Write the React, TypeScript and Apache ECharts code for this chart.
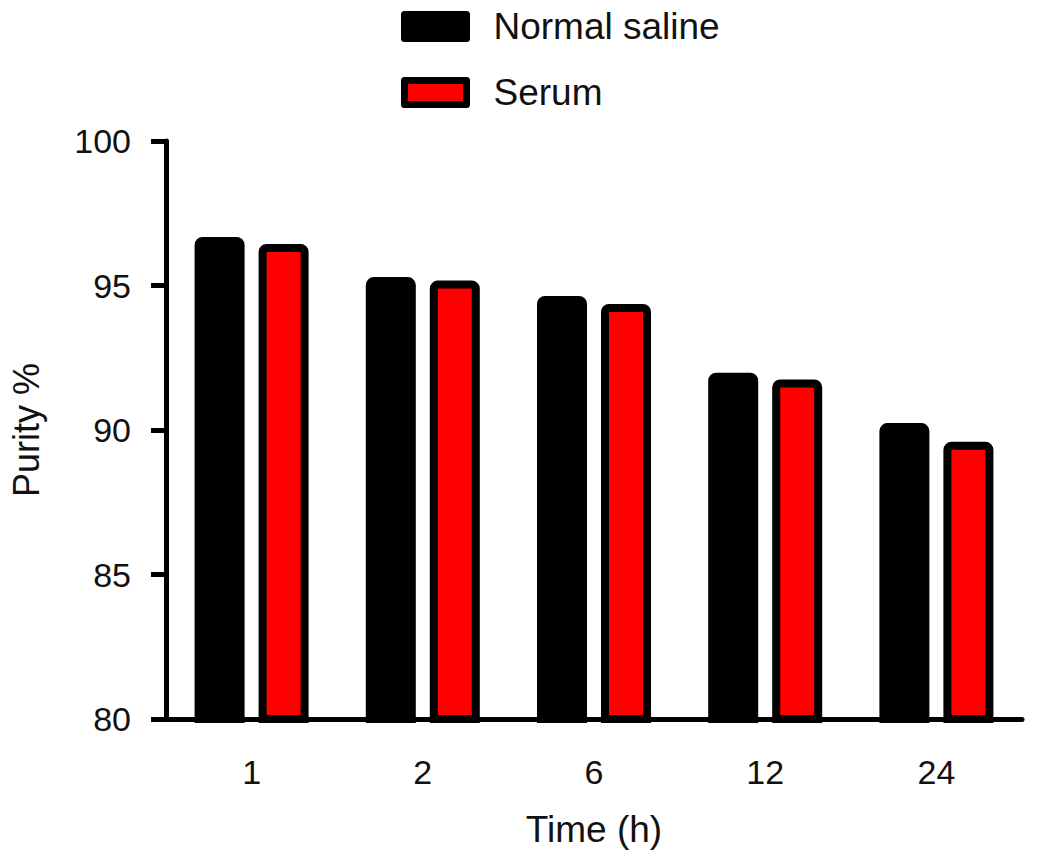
import React, { useEffect, useRef } from "react";
import * as echarts from "echarts";

const categories = ["1", "2", "6", "12", "24"];
const normalSaline = [96.68, 95.29, 94.64, 91.98, 90.24];
const serum = [96.44, 95.17, 94.36, 91.75, 89.59];
const yTicks = { min: 80, max: 100, interval: 5 };

export default function App() {
  const ref = useRef<HTMLDivElement>(null);
  useEffect(() => {
    const chart = echarts.init(ref.current!, null, { renderer: "svg" });
    const font = "Liberation Sans, Arial, sans-serif";
    chart.setOption({
      animation: false,
      backgroundColor: "#ffffff",
      legend: {
        orient: "vertical",
        left: 396,
        top: 3,
        itemWidth: 62,
        itemHeight: 24,
        itemGap: 29,
        icon: "rect",
        itemStyle: { borderWidth: 7, borderColor: "#000", borderJoin: "round" },
        textStyle: { fontSize: 37, fontFamily: font, color: "#111", padding: [0, 0, 0, 22] },
        data: ["Normal saline", "Serum"],
      },
      grid: { left: 163, right: 15, top: 141, bottom: 140 },
      xAxis: {
        type: "category",
        data: categories,
        name: "Time (h)",
        nameLocation: "middle",
        nameGap: 92,
        nameTextStyle: { fontSize: 37, fontFamily: font, color: "#111" },
        axisLine: { lineStyle: { color: "#000", width: 5, cap: "round" } },
        axisTick: { alignWithLabel: true, length: 15, lineStyle: { color: "#000", width: 5 } },
        axisLabel: { fontSize: 34, fontFamily: font, color: "#111", margin: 36 },
      },
      yAxis: {
        type: "value",
        min: yTicks.min,
        max: yTicks.max,
        interval: yTicks.interval,
        name: "Purity %",
        nameLocation: "middle",
        nameGap: 122,
        nameTextStyle: { fontSize: 36, fontFamily: font, color: "#111" },
        axisLine: { show: true, lineStyle: { color: "#000", width: 5, cap: "round" } },
        axisTick: { show: true, length: 15, lineStyle: { color: "#000", width: 5 } },
        axisLabel: { fontSize: 34, fontFamily: font, color: "#111", margin: 35 },
        splitLine: { show: false },
      },
      series: [
        {
          name: "Normal saline",
          type: "bar",
          data: normalSaline,
          barWidth: 50,
          barGap: "28%",
          itemStyle: { color: "#000", borderColor: "#000", borderWidth: 8, borderRadius: [4, 4, 0, 0] },
        },
        {
          name: "Serum",
          type: "bar",
          data: serum,
          barWidth: 50,
          barGap: "28%",
          itemStyle: { color: "#ff0000", borderColor: "#000", borderWidth: 8, borderRadius: [4, 4, 0, 0] },
        },
      ],
    });
    return () => chart.dispose();
  }, []);
  return <div ref={ref} style={{ width: 1037, height: 859, position: "absolute", left: 0, top: 0 }} />;
}
